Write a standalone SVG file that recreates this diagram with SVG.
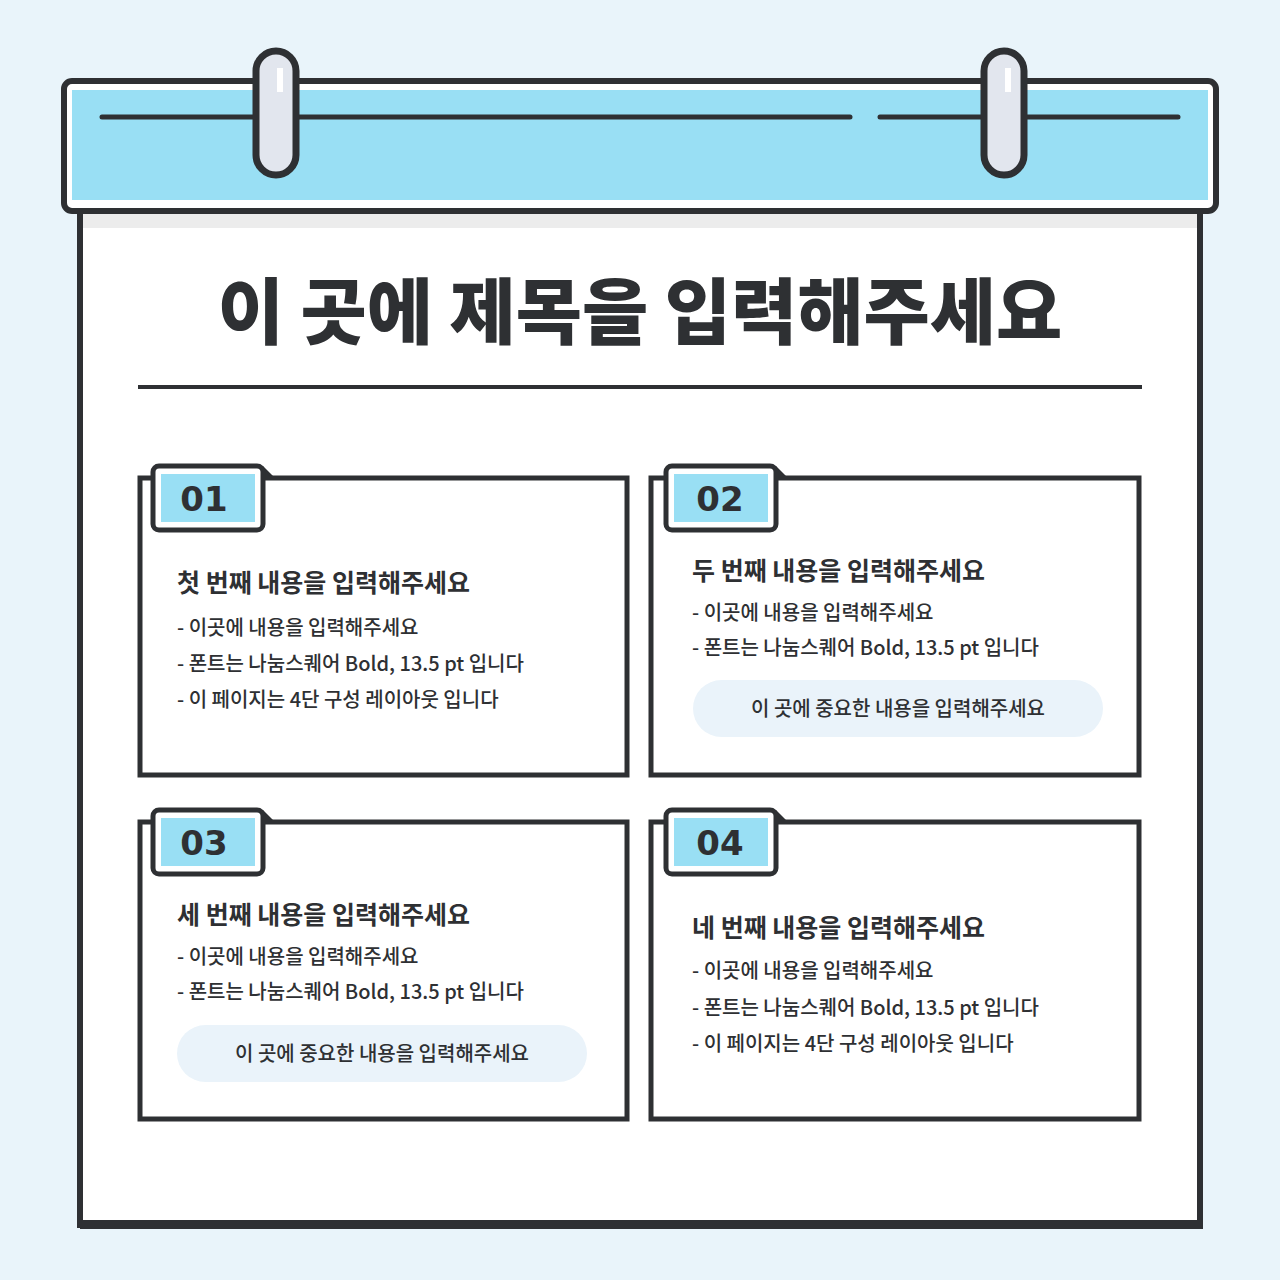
<svg xmlns="http://www.w3.org/2000/svg" width="1280" height="1280" viewBox="0 0 1280 1280">
<style>
.dk{stroke:#2e3033;fill:none}
.t{font-family:"Noto Sans CJK KR","Noto Sans",sans-serif;fill:#2e3033}
.h{font-size:25px;font-weight:700}
.i{font-size:20px;font-weight:500}
.num{font-family:"DejaVu Sans","Noto Sans",sans-serif;font-size:34px;font-weight:700;fill:#2e3033}
.pill{fill:#eaf3fa}
</style>
<defs>
<g id="tab">
<path d="M0,0 H110 L122,12 V12 H0 Z" fill="#2e3033"/>
<rect x="0" y="0" width="110" height="64" rx="6" fill="#fff" stroke="#2e3033" stroke-width="5"/>
<rect x="8" y="8" width="94" height="48" fill="#99dff4"/>
</g>
</defs>
<rect width="1280" height="1280" fill="#e9f4fa"/>
<!-- body -->
<rect x="80" y="205" width="1120" height="1020" fill="#fff" stroke="#2e3033" stroke-width="6"/>
<rect x="80" y="1220" width="1123" height="9" fill="#2e3033"/>
<rect x="83" y="212" width="1114" height="16" fill="#ececec"/>
<!-- header -->
<rect x="64" y="81" width="1152" height="130" rx="8" fill="#fff" stroke="#2e3033" stroke-width="6"/>
<rect x="72" y="90" width="1136" height="110" fill="#99dff4"/>
<line x1="102" y1="117" x2="850" y2="117" class="dk" stroke-width="5" stroke-linecap="round"/>
<line x1="880" y1="117" x2="1178" y2="117" class="dk" stroke-width="5" stroke-linecap="round"/>
<g id="clip1"><rect x="256" y="51" width="40" height="124" rx="20" fill="#e2e6ee" stroke="#2e3033" stroke-width="7"/><rect x="277" y="68" width="6" height="24" fill="#fff"/></g>
<g id="clip2"><rect x="984" y="51" width="40" height="124" rx="20" fill="#e2e6ee" stroke="#2e3033" stroke-width="7"/><rect x="1005" y="68" width="6" height="24" fill="#fff"/></g>
<g id="title">
<text x="640" y="338" text-anchor="middle" class="t" font-size="72" font-weight="800">이 곳에 제목을 입력해주세요</text>
<line x1="138" y1="387" x2="1142" y2="387" class="dk" stroke-width="4"/>
</g>
<g id="card1">
<rect x="140" y="478" width="487" height="297" fill="#fff" class="dk" stroke-width="5"/>
<use href="#tab" x="153" y="466"/>
<text x="204" y="511" text-anchor="middle" class="num">01</text>
<text x="177" y="592" class="t h">첫 번째 내용을 입력해주세요</text>
<text x="177" y="635" class="t i">- 이곳에 내용을 입력해주세요</text>
<text x="177" y="671" class="t i">- 폰트는 나눔스퀘어 Bold, 13.5 pt 입니다</text>
<text x="177" y="707" class="t i">- 이 페이지는 4단 구성 레이아웃 입니다</text>
</g>
<g id="card2">
<rect x="651" y="478" width="488" height="297" fill="#fff" class="dk" stroke-width="5"/>
<use href="#tab" x="666" y="466"/>
<text x="720" y="511" text-anchor="middle" class="num">02</text>
<text x="692" y="580" class="t h">두 번째 내용을 입력해주세요</text>
<text x="692" y="620" class="t i">- 이곳에 내용을 입력해주세요</text>
<text x="692" y="655" class="t i">- 폰트는 나눔스퀘어 Bold, 13.5 pt 입니다</text>
<rect x="693" y="680" width="410" height="57" rx="28.5" class="pill"/>
<text x="898" y="716" text-anchor="middle" class="t i" fill="#3a3c40">이 곳에 중요한 내용을 입력해주세요</text>
</g>
<g id="card3">
<rect x="140" y="822" width="487" height="297" fill="#fff" class="dk" stroke-width="5"/>
<use href="#tab" x="153" y="810"/>
<text x="204" y="855" text-anchor="middle" class="num">03</text>
<text x="177" y="924" class="t h">세 번째 내용을 입력해주세요</text>
<text x="177" y="964" class="t i">- 이곳에 내용을 입력해주세요</text>
<text x="177" y="999" class="t i">- 폰트는 나눔스퀘어 Bold, 13.5 pt 입니다</text>
<rect x="177" y="1025" width="410" height="57" rx="28.5" class="pill"/>
<text x="382" y="1061" text-anchor="middle" class="t i">이 곳에 중요한 내용을 입력해주세요</text>
</g>
<g id="card4">
<rect x="651" y="822" width="488" height="297" fill="#fff" class="dk" stroke-width="5"/>
<use href="#tab" x="666" y="810"/>
<text x="720" y="855" text-anchor="middle" class="num">04</text>
<text x="692" y="937" class="t h">네 번째 내용을 입력해주세요</text>
<text x="692" y="978" class="t i">- 이곳에 내용을 입력해주세요</text>
<text x="692" y="1015" class="t i">- 폰트는 나눔스퀘어 Bold, 13.5 pt 입니다</text>
<text x="692" y="1051" class="t i">- 이 페이지는 4단 구성 레이아웃 입니다</text>
</g>
<g id="connectors"/>
</svg>
